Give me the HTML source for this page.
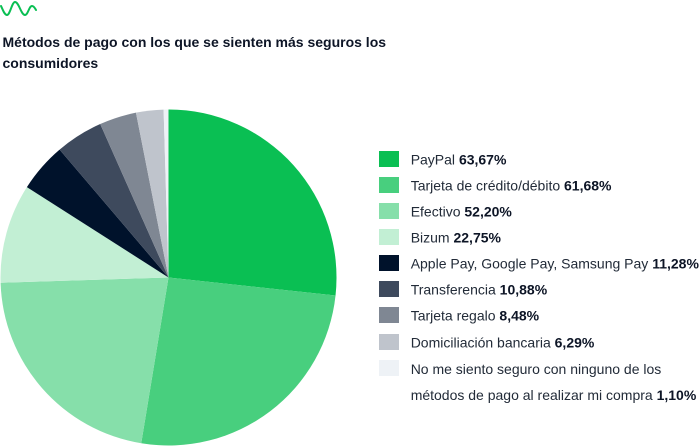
<!DOCTYPE html>
<html>
<head>
<meta charset="utf-8">
<style>
  html, body { margin: 0; padding: 0; background: #ffffff; }
  body { width: 700px; height: 447px; overflow: hidden; }
  svg { display: block; }
  .t { font-family: "Liberation Sans", Arial, sans-serif; }
</style>
</head>
<body>
<svg width="700" height="447" viewBox="0 0 700 447" xmlns="http://www.w3.org/2000/svg">
  <rect x="0" y="0" width="700" height="447" fill="#ffffff"/>

  <!-- logo wave -->
  <path d="M1,6 C3,10 4.5,15 7,15 C10,15 12,2 15,2 C19,2 21,15 25,15 C28,15 29,6 32,6 C34,6 35,8.5 36,10"
        fill="none" stroke="#0abf53" stroke-width="2" stroke-linecap="round" stroke-linejoin="round"/>

  <!-- title -->
  <text class="t" x="2.5" y="47" font-size="14" font-weight="bold" fill="#0d1526">Métodos de pago con los que se sienten más seguros los</text>
  <text class="t" x="2.5" y="68" font-size="14" font-weight="bold" fill="#0d1526">consumidores</text>

  <!-- pie -->
  <g>
    <path d="M168.5,277.5 L168.5,109.5 A168,168 0 0 1 335.53,295.56 Z" fill="#0abf53"/>
    <path d="M168.5,277.5 L335.53,295.56 A168,168 0 0 1 141.24,443.27 Z" fill="#48cf7e"/>
    <path d="M168.5,277.5 L141.24,443.27 A168,168 0 0 1 0.58,282.81 Z" fill="#86dfaa"/>
    <path d="M168.5,277.5 L0.58,282.81 A168,168 0 0 1 26.89,187.11 Z" fill="#c2efd4"/>
    <path d="M168.5,277.5 L26.89,187.11 A168,168 0 0 1 59.60,149.58 Z" fill="#00122b"/>
    <path d="M168.5,277.5 L59.60,149.58 A168,168 0 0 1 100.22,124.00 Z" fill="#3e4a5d"/>
    <path d="M168.5,277.5 L100.22,124.00 A168,168 0 0 1 135.95,112.68 Z" fill="#7f8793"/>
    <path d="M168.5,277.5 L135.95,112.68 A168,168 0 0 1 163.60,109.57 Z" fill="#bfc4cc"/>
    <path d="M168.5,277.5 L163.60,109.57 A168,168 0 0 1 168.5,109.5 Z" fill="#eef2f6"/>
  </g>

  <!-- legend -->
  <g class="t" font-size="14">
    <rect x="379" y="151" width="20" height="16" fill="#0abf53"/>
    <text x="410.7" y="164.5" fill="#222b38">PayPal <tspan font-weight="bold" fill="#0d1526">63,67%</tspan></text>

    <rect x="379" y="177" width="20" height="16" fill="#48cf7e"/>
    <text x="410.7" y="190.5" fill="#222b38">Tarjeta de crédito/débito <tspan font-weight="bold" fill="#0d1526">61,68%</tspan></text>

    <rect x="379" y="203" width="20" height="16" fill="#86dfaa"/>
    <text x="410.7" y="216.5" fill="#222b38">Efectivo <tspan font-weight="bold" fill="#0d1526">52,20%</tspan></text>

    <rect x="379" y="229" width="20" height="16" fill="#c2efd4"/>
    <text x="410.7" y="242.5" fill="#222b38">Bizum <tspan font-weight="bold" fill="#0d1526">22,75%</tspan></text>

    <rect x="379" y="255" width="20" height="16" fill="#00122b"/>
    <text x="410.7" y="268.5" fill="#222b38">Apple Pay, Google Pay, Samsung Pay <tspan font-weight="bold" fill="#0d1526">11,28%</tspan></text>

    <rect x="379" y="281" width="20" height="16" fill="#3e4a5d"/>
    <text x="410.7" y="294.5" fill="#222b38">Transferencia <tspan font-weight="bold" fill="#0d1526">10,88%</tspan></text>

    <rect x="379" y="307" width="20" height="16" fill="#7f8793"/>
    <text x="410.7" y="320.5" fill="#222b38">Tarjeta regalo <tspan font-weight="bold" fill="#0d1526">8,48%</tspan></text>

    <rect x="379" y="334" width="20" height="16" fill="#bfc4cc"/>
    <text x="410.7" y="347.5" fill="#222b38">Domiciliación bancaria <tspan font-weight="bold" fill="#0d1526">6,29%</tspan></text>

    <rect x="379" y="360" width="20" height="16" fill="#eef2f6"/>
    <text x="410.7" y="373.8" fill="#222b38">No me siento seguro con ninguno de los</text>
    <text x="410.7" y="399.8" fill="#222b38">métodos de pago al realizar mi compra <tspan font-weight="bold" fill="#0d1526">1,10%</tspan></text>
  </g>
</svg>
</body>
</html>
